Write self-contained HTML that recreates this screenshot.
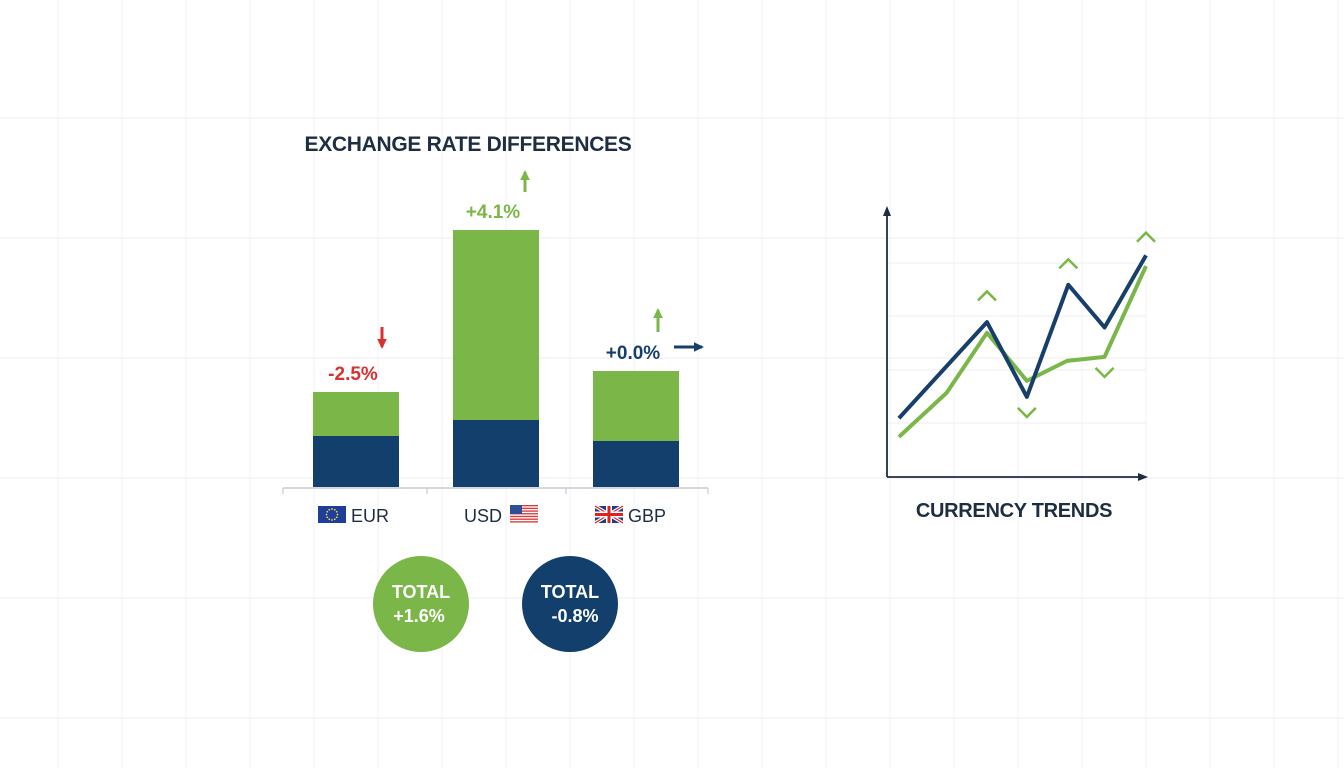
<!DOCTYPE html>
<html><head><meta charset="utf-8"><style>
html,body{margin:0;padding:0;background:#fff;}
body{width:1344px;height:768px;overflow:hidden;font-family:"Liberation Sans",sans-serif;}
</style></head><body>
<svg id="chart" width="1344" height="768" xmlns="http://www.w3.org/2000/svg" style="display:block">
<g id="grid"></g>
<text x="468" y="151" text-anchor="middle" font-size="21" font-weight="bold" fill="#1f2d40" letter-spacing="-0.3">EXCHANGE RATE DIFFERENCES</text>
<g id="bars"></g>
<g id="lines"></g>
<text x="1014" y="517" text-anchor="middle" font-size="20" font-weight="bold" fill="#1f2d40" letter-spacing="-0.3">CURRENCY TRENDS</text>
<g>
<circle cx="421" cy="604" r="48" fill="#7ab648"/>
<text x="421" y="598" text-anchor="middle" font-size="18" font-weight="bold" fill="#fff">TOTAL</text>
<text x="419" y="622" text-anchor="middle" font-size="18" font-weight="bold" fill="#fff">+1.6%</text>
</g>
<g>
<circle cx="570" cy="604" r="48" fill="#123f6b"/>
<text x="570" y="598" text-anchor="middle" font-size="18" font-weight="bold" fill="#fff">TOTAL</text>
<text x="575" y="622" text-anchor="middle" font-size="18" font-weight="bold" fill="#fff">-0.8%</text>
</g>
</svg>
<script>
const NS='http://www.w3.org/2000/svg';
function mk(tag,attrs,parent){const e=document.createElementNS(NS,tag);for(const k in attrs)e.setAttribute(k,attrs[k]);parent.appendChild(e);return e;}

// grid
const grid=document.getElementById('grid');
for(let x=58;x<1344;x+=64){const l=mk('line',{x1:x,y1:0,x2:x,y2:768,stroke:'#f1f2f4','stroke-width':1},grid);}
for(let y=118;y<768;y+=120){const l=mk('line',{x1:0,y1:y,x2:1344,y2:y,stroke:'#eceef1','stroke-width':1},grid);}

// bar chart data
const currencies=['EUR','USD','GBP'];
const totalValues=[95,257,116];
const baseValues=[51,67,46];
const changeLabels=['-2.5%','+4.1%','+0.0%'];
const barsG=document.getElementById('bars');
const baseY=487, barLeft=313, barStep=140, barW=86;
function yBar(v){return baseY-v*1.0;}
function xBar(i){return barLeft+i*barStep;}
mk('line',{x1:283,y1:488,x2:708,y2:488,stroke:'#c8ccd2','stroke-width':1.5},barsG);
[283,427,566,708].forEach(x=>mk('line',{x1:x,y1:488,x2:x,y2:494,stroke:'#c8ccd2','stroke-width':1.2},barsG));
const lblColors=['#d9312f','#7ab648','#173f6b'];
currencies.forEach((c,i)=>{
  const x=xBar(i);
  const g=mk('rect',{x:x,y:yBar(totalValues[i]),width:barW,height:totalValues[i]-baseValues[i],fill:'#7ab648'},barsG);
  
  
  const b=mk('rect',{x:x,y:yBar(baseValues[i]),width:barW,height:baseValues[i],fill:'#123f6b'},barsG);
  
  
  const t=mk('text',{x:x+barW/2-3,y:yBar(totalValues[i])-12,'text-anchor':'middle','font-size':19,'font-weight':'bold',fill:lblColors[i]},barsG);
  t.textContent=changeLabels[i];
  
  
});
// arrows
function arrow(x1,y1,x2,y2,col){mk('line',{x1,y1,x2,y2,stroke:col,'stroke-width':3},barsG);
  const dx=x2-x1,dy=y2-y1,len=Math.hypot(dx,dy),ux=dx/len,uy=dy/len,s=8;
  mk('polygon',{points:`${x2+ux*2},${y2+uy*2} ${x2-ux*s+uy*s*0.6},${y2-uy*s-ux*s*0.6} ${x2-ux*s-uy*s*0.6},${y2-uy*s+ux*s*0.6}`,fill:col},barsG);}
arrow(382,327,382,347,'#d9312f');
arrow(525,192,525,172,'#7ab648');
arrow(658,332,658,310,'#7ab648');
arrow(674,347,702,347,'#173f6b');
// category labels with flags
const lg=mk('g',{},barsG);
// EUR flag
mk('rect',{x:318,y:506,width:28,height:17,fill:'#1d3f9a'},lg);
for(let k=0;k<12;k++){const a=k/12*Math.PI*2;mk('circle',{cx:332+Math.cos(a)*5.5,cy:514.5+Math.sin(a)*5.5,r:0.9,fill:'#f5d442'},lg);}
let t=mk('text',{x:351,y:522,'font-size':18,fill:'#1f2d40'},lg);t.textContent='EUR';

t=mk('text',{x:464,y:522,'font-size':18,fill:'#1f2d40'},lg);t.textContent='USD';

for(let k=0;k<7;k++)mk('rect',{x:510,y:505+k*2.7,width:28,height:1.35,fill:'#d93a3a'},lg);
mk('rect',{x:510,y:505,width:12,height:9,fill:'#2d4f9a'},lg);
// GBP flag
mk('rect',{x:595,y:506,width:28,height:17,fill:'#1f3d85'},lg);
mk('line',{x1:595,y1:506,x2:623,y2:523,stroke:'#fff','stroke-width':3.5},lg);
mk('line',{x1:623,y1:506,x2:595,y2:523,stroke:'#fff','stroke-width':3.5},lg);
mk('line',{x1:595,y1:506,x2:623,y2:523,stroke:'#d22','stroke-width':1.2},lg);
mk('line',{x1:623,y1:506,x2:595,y2:523,stroke:'#d22','stroke-width':1.2},lg);
mk('rect',{x:606,y:506,width:6,height:17,fill:'#fff'},lg);
mk('rect',{x:595,y:511.5,width:28,height:6,fill:'#fff'},lg);
mk('rect',{x:607.5,y:506,width:3,height:17,fill:'#d22'},lg);
mk('rect',{x:595,y:513,width:28,height:3,fill:'#d22'},lg);
t=mk('text',{x:628,y:522,'font-size':18,fill:'#1f2d40'},lg);t.textContent='GBP';


// line chart data
const navyX=[4.6,38.6,54,70,84,100];
const navyY=[22,58,30,72,56,83];
const greenX=[4.6,23,38.6,54,69.5,84,100];
const greenY=[15,31.5,54,36,43.5,45,79];
const markerUp=[[38.6,68],[70,80],[100,90]];
const markerDown=[[54,24],[84,39]];
const LG=document.getElementById('lines');
function xL(t){return 887+t*2.59;}
function yL(v){return 477-v*2.67;}
[263,316,370,423].forEach(y=>mk('line',{x1:887,y1:y,x2:1146,y2:y,stroke:'#eceef1','stroke-width':1},LG));
mk('line',{x1:887,y1:477,x2:887,y2:214,stroke:'#1f2d40','stroke-width':1.8},LG);
mk('polygon',{points:'887,206 883,216 891,216',fill:'#1f2d40'},LG);
mk('line',{x1:887,y1:477,x2:1140,y2:477,stroke:'#1f2d40','stroke-width':1.8},LG);
mk('polygon',{points:'1148,477 1138,473 1138,481',fill:'#1f2d40'},LG);
const gp=mk('polyline',{points:greenX.map((x,i)=>xL(x)+','+yL(greenY[i])).join(' '),fill:'none',stroke:'#7ab648','stroke-width':4,'stroke-linejoin':'round'},LG);

const np=mk('polyline',{points:navyX.map((x,i)=>xL(x)+','+yL(navyY[i])).join(' '),fill:'none',stroke:'#173f6b','stroke-width':4,'stroke-linejoin':'round'},LG);

markerUp.forEach(([x,v])=>{const cx=xL(x),cy=yL(v);const m=mk('polyline',{points:`${cx-9},${cy+5} ${cx},${cy-4} ${cx+9},${cy+5}`,fill:'none',stroke:'#7ab648','stroke-width':2.5},LG);});
markerDown.forEach(([x,v])=>{const cx=xL(x),cy=yL(v);const m=mk('polyline',{points:`${cx-9},${cy-5} ${cx},${cy+4} ${cx+9},${cy-5}`,fill:'none',stroke:'#7ab648','stroke-width':2.5},LG);});
</script>
</body></html>
